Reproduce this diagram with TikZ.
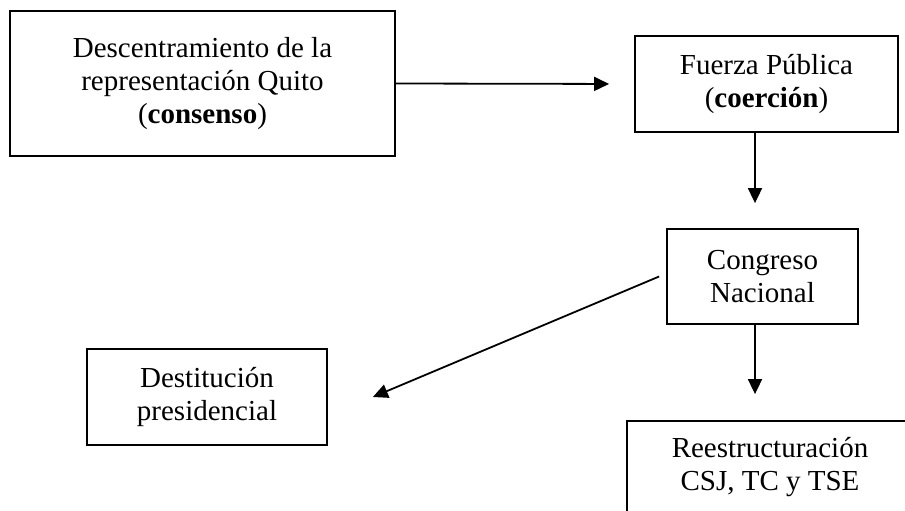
\documentclass[tikz,border=0pt]{standalone}
\usepackage{fontspec}
\setmainfont{Liberation Serif}
\usetikzlibrary{arrows.meta}
\begin{document}
\begin{tikzpicture}[x=1pt,y=-1pt,
  box/.style={draw, line width=1.8pt, align=center, inner sep=0pt,
    font=\fontsize{29}{33}\selectfont},
  arr/.style={line width=1.8pt, -{Triangle[length=15pt,width=14pt]}}]
\useasboundingbox (0,0) rectangle (905,511);
\clip (0,0) rectangle (905,511);
\node[box, minimum width=385pt, minimum height=145pt] (b1) at (202.5,83.5)
  {Descentramiento de la\\representación Quito\\(\textbf{consenso})};
\node[box, minimum width=263pt, minimum height=96pt] (b2) at (766.5,84)
  {Fuerza Pública\\(\textbf{coerción})};
\node[box, minimum width=191pt, minimum height=95pt] (b3) at (762.5,276.5)
  {Congreso\\Nacional};
\node[box, minimum width=240pt, minimum height=96pt] (b4) at (207,397)
  {Destitución\\presidencial};
\node[box, minimum width=286pt, minimum height=92pt] (b5) at (770,467)
  {Reestructuración\\CSJ, TC y TSE};
\coordinate (ax) at (755,0);
\draw[arr, shorten >=25pt] (b1.east) -- (b2.west);
\draw[arr, shorten >=25pt] (b2.south -| ax) -- (b3.north -| ax);
\draw[arr, shorten >=26pt] (b3.south -| ax) -- (b5.north -| ax);
\draw[arr] ([xshift=-7pt]b3.west) -- ([xshift=45pt]b4.east);
\end{tikzpicture}
\end{document}
